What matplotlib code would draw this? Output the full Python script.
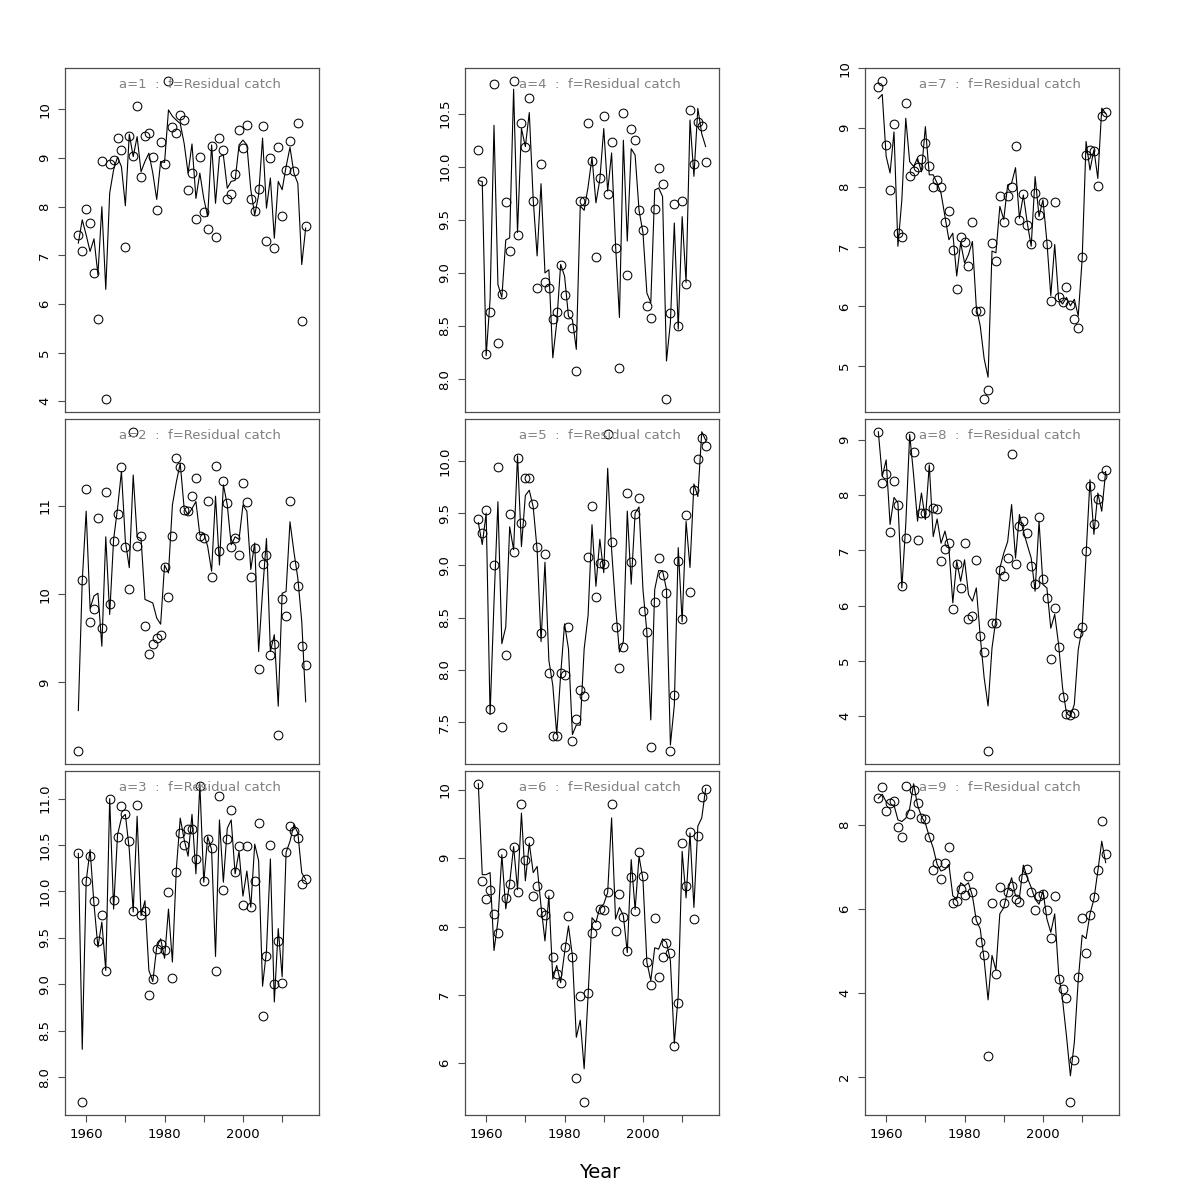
import numpy as np
import matplotlib
matplotlib.use('Agg')
import matplotlib.pyplot as plt

years = list(range(1958, 2017))

obs_1 = [7.41, 7.09, 7.95, 7.66, 6.64, 5.69, 8.93, 4.04, 8.87, 8.95, 9.41, 9.16, 7.18, 9.45, 9.04, 10.08, 8.61, 9.46, 9.51, 9.02,
         7.94, 9.34, 8.88, 10.59, 9.64, 9.51, 9.88, 9.79, 8.34, 8.70, 7.74, 9.02, 7.90, 7.55, 9.25, 7.38, 9.41, 9.16, 8.16, 8.26,
         8.67, 9.57, 9.21, 9.67, 8.16, 7.91, 8.36, 9.65, 7.29, 9.00, 7.16, 9.23, 7.81, 8.76, 9.36, 8.74, 9.73, 5.65, 7.61]
fit_1 = [7.25, 7.73, 7.42, 7.08, 7.34, 6.60, 8.00, 6.30, 8.28, 8.76, 9.02, 8.82, 8.02, 9.49, 9.03, 9.44, 8.72, 8.93, 9.10, 8.69,
         8.15, 8.93, 8.91, 9.99, 9.86, 9.78, 9.71, 9.30, 8.69, 9.29, 8.17, 8.69, 8.17, 7.80, 9.27, 8.07, 9.03, 9.06, 8.38, 8.52,
         8.54, 9.27, 9.37, 9.27, 8.35, 7.83, 8.24, 9.41, 7.97, 8.59, 7.35, 8.52, 8.35, 8.82, 9.22, 8.69, 8.48, 6.81, 7.56]

obs_2 = [8.22, 10.16, 11.19, 9.69, 9.83, 10.86, 9.62, 11.16, 9.89, 10.60, 10.91, 11.44, 10.53, 10.06, 11.84, 10.55, 10.66, 9.64, 9.32, 9.43,
         9.50, 9.54, 10.31, 9.97, 10.66, 11.54, 11.44, 10.95, 10.94, 11.11, 11.32, 10.66, 10.64, 11.06, 10.19, 11.45, 10.49, 11.28, 11.03, 10.53,
         10.64, 10.44, 11.26, 11.04, 10.19, 10.52, 9.15, 10.34, 10.44, 9.31, 9.43, 8.40, 9.95, 9.75, 11.05, 10.33, 10.09, 9.41, 9.20]
fit_2 = [8.68, 10.15, 10.94, 9.84, 9.98, 10.01, 9.41, 10.65, 9.77, 10.62, 10.97, 11.39, 10.60, 10.30, 11.35, 10.65, 10.63, 9.94, 9.92, 9.90,
         9.73, 9.66, 10.33, 10.24, 11.01, 11.27, 11.48, 10.97, 10.90, 10.97, 11.05, 10.67, 10.69, 10.54, 10.26, 11.11, 10.33, 11.24, 11.01, 10.56,
         10.65, 10.62, 11.01, 10.94, 10.28, 10.58, 9.35, 10.03, 10.63, 9.35, 9.54, 8.73, 10.01, 10.03, 10.82, 10.48, 10.18, 9.69, 8.78]

obs_3 = [10.41, 7.73, 10.11, 10.38, 9.90, 9.47, 9.75, 9.14, 11.00, 9.91, 10.59, 10.92, 10.83, 10.54, 9.79, 10.93, 9.75, 9.79, 8.89, 9.06,
         9.38, 9.43, 9.37, 9.99, 9.07, 10.21, 10.63, 10.50, 10.67, 10.67, 10.35, 11.14, 10.11, 10.56, 10.47, 9.14, 11.03, 10.02, 10.56, 10.88,
         10.21, 10.49, 9.85, 10.49, 9.83, 10.11, 10.74, 8.66, 9.30, 10.50, 9.00, 9.47, 9.01, 10.42, 10.71, 10.65, 10.58, 10.08, 10.13]
fit_3 = [10.41, 8.30, 10.11, 10.45, 9.86, 9.40, 9.67, 9.15, 11.00, 9.81, 10.61, 10.79, 10.83, 10.45, 9.78, 10.81, 9.74, 9.90, 9.15, 9.03,
         9.40, 9.49, 9.28, 9.81, 9.24, 10.24, 10.79, 10.56, 10.38, 10.83, 10.19, 11.16, 10.10, 10.59, 10.45, 9.30, 10.77, 10.10, 10.68, 10.77,
         10.19, 10.43, 9.95, 10.22, 9.83, 10.51, 10.33, 8.98, 9.36, 10.35, 8.81, 9.60, 9.08, 10.42, 10.54, 10.72, 10.63, 10.20, 10.13]

obs_4 = [10.16, 9.87, 8.24, 8.63, 10.78, 8.34, 8.80, 9.67, 9.21, 10.81, 9.36, 10.41, 10.19, 10.65, 9.68, 8.86, 10.03, 8.91, 8.86, 8.57,
         8.63, 9.07, 8.79, 8.61, 8.48, 8.08, 9.68, 9.68, 10.41, 10.05, 9.15, 9.89, 10.48, 9.74, 10.23, 9.23, 8.10, 10.51, 8.98, 10.36,
         10.25, 9.59, 9.40, 8.69, 8.58, 9.60, 9.99, 9.84, 7.81, 8.62, 9.65, 8.50, 9.68, 8.90, 10.53, 10.03, 10.42, 10.38, 10.04]
fit_4 = [9.87, 9.86, 8.22, 8.75, 10.39, 8.89, 8.77, 9.31, 9.33, 10.73, 9.38, 10.36, 10.19, 10.51, 9.69, 9.16, 9.84, 9.00, 9.03, 8.20,
         8.53, 9.08, 8.97, 8.59, 8.56, 8.28, 9.63, 9.59, 9.81, 10.09, 9.66, 9.88, 10.36, 9.77, 10.13, 9.27, 8.58, 10.25, 9.30, 10.17,
         10.11, 9.59, 9.38, 8.81, 8.72, 9.78, 9.80, 9.72, 8.17, 8.53, 9.47, 8.47, 9.53, 8.91, 10.44, 9.91, 10.55, 10.31, 10.19]

obs_5 = [9.44, 9.31, 9.53, 7.62, 9.00, 9.94, 7.45, 8.14, 9.49, 9.13, 10.03, 9.41, 9.84, 9.84, 9.59, 9.18, 8.35, 9.11, 7.97, 7.37,
         7.37, 7.97, 7.95, 8.41, 7.32, 7.53, 7.81, 7.75, 9.08, 9.57, 8.70, 9.02, 9.01, 10.26, 9.22, 8.41, 8.02, 8.22, 9.69, 9.03,
         9.49, 9.65, 8.56, 8.36, 7.26, 8.65, 9.07, 8.91, 8.74, 7.22, 7.76, 9.04, 8.49, 9.48, 8.75, 9.72, 10.02, 10.22, 10.14]
fit_5 = [9.41, 9.20, 9.50, 7.57, 8.65, 9.61, 8.25, 8.41, 9.37, 9.15, 10.05, 9.18, 9.67, 9.72, 9.56, 9.15, 8.27, 9.03, 8.09, 7.85,
         7.38, 7.95, 8.44, 8.20, 7.38, 7.47, 7.47, 8.20, 8.52, 9.39, 8.80, 9.25, 8.93, 9.93, 9.15, 8.61, 8.17, 8.27, 9.52, 8.82,
         9.50, 9.56, 8.77, 8.36, 7.52, 8.77, 8.95, 8.95, 8.77, 7.28, 7.66, 9.17, 8.46, 9.42, 8.98, 9.78, 9.66, 10.28, 10.20]

obs_6 = [10.09, 8.67, 8.40, 8.53, 8.19, 7.90, 9.07, 8.42, 8.63, 9.16, 8.50, 9.79, 8.97, 9.25, 8.45, 8.59, 8.22, 8.17, 8.48, 7.55,
         7.31, 7.18, 7.70, 8.15, 7.55, 5.79, 6.99, 5.43, 7.03, 7.91, 8.02, 8.26, 8.25, 8.50, 9.80, 7.94, 8.47, 8.14, 7.64, 8.72,
         8.23, 9.09, 8.74, 7.48, 7.15, 8.12, 7.26, 7.56, 7.76, 7.62, 6.25, 6.88, 9.22, 8.59, 9.38, 8.11, 9.32, 9.90, 10.02]
fit_6 = [10.09, 8.76, 8.76, 8.79, 7.65, 8.08, 9.05, 8.26, 8.64, 9.17, 8.54, 9.66, 8.67, 9.22, 8.79, 8.88, 8.30, 7.79, 8.45, 7.23,
         7.43, 7.18, 7.62, 8.01, 7.57, 6.38, 6.63, 5.92, 6.99, 8.13, 8.06, 8.28, 8.33, 8.50, 9.59, 8.11, 8.28, 8.16, 7.62, 8.98,
         8.25, 9.03, 8.69, 7.48, 7.21, 7.69, 7.67, 7.82, 7.77, 7.50, 6.29, 6.99, 9.10, 8.42, 9.37, 8.28, 9.47, 9.59, 10.02]

obs_7 = [9.69, 9.79, 8.71, 7.95, 9.06, 7.23, 7.17, 9.41, 8.19, 8.28, 8.34, 8.47, 8.75, 8.36, 8.01, 8.12, 8.00, 7.41, 7.60, 6.95,
         6.29, 7.16, 7.08, 6.68, 7.42, 5.92, 5.93, 4.44, 4.59, 7.07, 6.77, 7.86, 7.42, 7.86, 8.01, 8.69, 7.45, 7.89, 7.37, 7.05,
         7.90, 7.53, 7.75, 7.05, 6.09, 7.76, 6.16, 6.08, 6.33, 6.02, 5.78, 5.64, 6.83, 8.55, 8.63, 8.61, 8.03, 9.19, 9.26]
fit_7 = [9.49, 9.56, 8.52, 8.24, 8.93, 7.01, 7.79, 9.16, 8.43, 8.35, 8.49, 8.26, 9.02, 8.21, 8.21, 8.07, 7.90, 7.51, 7.12, 7.23,
         6.51, 7.07, 6.73, 6.87, 7.09, 5.98, 5.67, 5.12, 4.81, 6.93, 6.90, 7.68, 7.46, 8.04, 8.07, 8.33, 7.48, 7.87, 7.40, 7.01,
         8.18, 7.51, 7.79, 7.09, 6.18, 7.04, 6.12, 6.04, 6.15, 6.01, 6.12, 5.84, 6.79, 8.77, 8.29, 8.63, 8.15, 9.33, 9.24]

obs_8 = [9.15, 8.23, 8.39, 7.33, 8.25, 7.82, 6.35, 7.22, 9.08, 8.78, 7.18, 7.68, 7.68, 8.51, 7.77, 7.75, 6.80, 7.03, 7.13, 5.94,
         6.75, 6.31, 7.14, 5.75, 5.81, 6.83, 5.44, 5.15, 3.36, 5.69, 5.69, 6.64, 6.54, 6.86, 8.75, 6.75, 7.44, 7.53, 7.32, 6.71,
         6.39, 7.61, 6.49, 6.14, 5.03, 5.96, 5.25, 4.34, 4.04, 4.01, 4.05, 5.50, 5.61, 6.99, 8.17, 7.48, 7.93, 8.34, 8.46]
fit_8 = [9.15, 8.34, 8.64, 7.47, 7.96, 7.86, 6.32, 7.47, 9.10, 8.37, 7.53, 8.04, 7.56, 8.55, 7.25, 7.57, 7.13, 7.35, 7.04, 6.05,
         6.80, 6.44, 6.83, 6.20, 6.08, 6.32, 5.44, 4.69, 4.18, 5.23, 5.75, 6.68, 6.95, 7.16, 7.83, 6.86, 7.65, 7.35, 7.10, 6.86,
         6.26, 7.53, 6.38, 6.32, 5.59, 5.84, 5.29, 4.51, 4.05, 3.99, 4.21, 5.20, 5.59, 6.92, 8.28, 7.29, 8.04, 7.71, 8.43]

obs_9 = [8.63, 8.90, 8.33, 8.52, 8.58, 7.94, 7.70, 8.93, 8.25, 8.82, 8.51, 8.16, 8.13, 7.72, 6.93, 7.10, 6.72, 7.09, 7.48, 6.15,
         6.18, 6.46, 6.34, 6.77, 6.40, 5.74, 5.21, 4.89, 2.49, 6.14, 4.45, 6.53, 6.14, 6.39, 6.55, 6.23, 6.16, 6.74, 6.94, 6.41,
         5.96, 6.31, 6.36, 5.96, 5.31, 6.31, 4.33, 4.10, 3.87, 1.39, 2.40, 4.38, 5.78, 4.95, 5.85, 6.29, 6.93, 8.10, 7.30]
fit_9 = [8.63, 8.73, 8.55, 8.47, 8.47, 8.12, 8.08, 8.16, 8.39, 8.98, 8.47, 8.20, 8.04, 7.72, 7.45, 7.06, 6.90, 6.94, 7.06, 6.31,
         6.23, 6.62, 6.55, 6.62, 6.31, 5.72, 5.52, 4.78, 3.83, 4.89, 4.54, 5.88, 6.03, 6.43, 6.74, 6.31, 6.27, 7.04, 6.74, 6.51,
         6.23, 6.11, 6.43, 5.76, 5.44, 5.88, 4.46, 3.83, 2.97, 2.02, 2.81, 4.30, 5.37, 5.29, 5.88, 6.23, 6.90, 7.61, 7.10]

ages = [1, 2, 3, 4, 5, 6, 7, 8, 9]
observed = [obs_1, obs_2, obs_3, obs_4, obs_5, obs_6, obs_7, obs_8, obs_9]
fitted = [fit_1, fit_2, fit_3, fit_4, fit_5, fit_6, fit_7, fit_8, fit_9]

yticks = [
    ['4', '5', '6', '7', '8', '9', '10'],
    ['9', '10', '11'],
    ['8.0', '8.5', '9.0', '9.5', '10.0', '10.5', '11.0'],
    ['8.0', '8.5', '9.0', '9.5', '10.0', '10.5'],
    ['7.5', '8.0', '8.5', '9.0', '9.5', '10.0'],
    ['6', '7', '8', '9', '10'],
    ['5', '6', '7', '8', '9', '10'],
    ['4', '5', '6', '7', '8', '9'],
    ['2', '4', '6', '8'],
]
xtick_years = [1960, 1970, 1980, 1990, 2000, 2010]
xtick_labels = ['1960', '', '1980', '', '2000', '']
xlim_years = (1957, 2017)
panel_title = 'f=Residual catch'

plt.rcParams['font.family'] = ['DejaVu Sans']
fig = plt.figure(figsize=(12, 12), dpi=100)
W = H = 1200.0
col_left = [65, 465, 865]
row_top = [68, 419, 771]
row_bot = [412, 764, 1115]
pw = 254

frame_col = '#4d4d4d'
for k, a in enumerate(ages):
    c = k // 3
    r = k % 3
    ax = fig.add_axes([col_left[c] / W, 1 - row_bot[r] / H, pw / W, (row_bot[r] - row_top[r]) / H])
    ob = np.array(observed[k]); ft = np.array(fitted[k])
    ax.plot(years, ft, color='black', lw=0.8)
    ax.plot(years, ob, linestyle='none', marker='o', ms=6.3, mfc='none', mec='black', mew=0.75)
    lo = min(ob.min(), ft.min()); hi = max(ob.max(), ft.max())
    pad = 0.04 * (hi - lo)
    ax.set_ylim(lo - pad, hi + pad)
    xr = xlim_years[1] - xlim_years[0]
    ax.set_xlim(xlim_years[0] - 0.04 * xr, xlim_years[1] + 0.04 * xr)
    yt = yticks[k]
    ax.set_yticks([float(v) for v in yt])
    ax.set_yticklabels(yt, rotation=90, va='center', fontsize=9.5)
    ax.tick_params(axis='y', direction='out', length=5, width=0.8, pad=5, color=frame_col)
    if r == 2:
        ax.set_xticks(xtick_years)
        ax.set_xticklabels(xtick_labels, fontsize=9.5)
        ax.tick_params(axis='x', direction='out', length=5, width=0.8, pad=4, color=frame_col)
    else:
        ax.set_xticks([])
    for s in ax.spines.values():
        s.set_color(frame_col)
        s.set_linewidth(0.9)
    ax.text(0.53, 0.953, 'a=%d  :  %s' % (a, panel_title), transform=ax.transAxes,
            ha='center', va='center', color='#808080', fontsize=9.5)

fig.text(600 / W, 1 - 1172 / H, 'Year', ha='center', va='center', fontsize=14)
fig.savefig('out.png', dpi=100)
